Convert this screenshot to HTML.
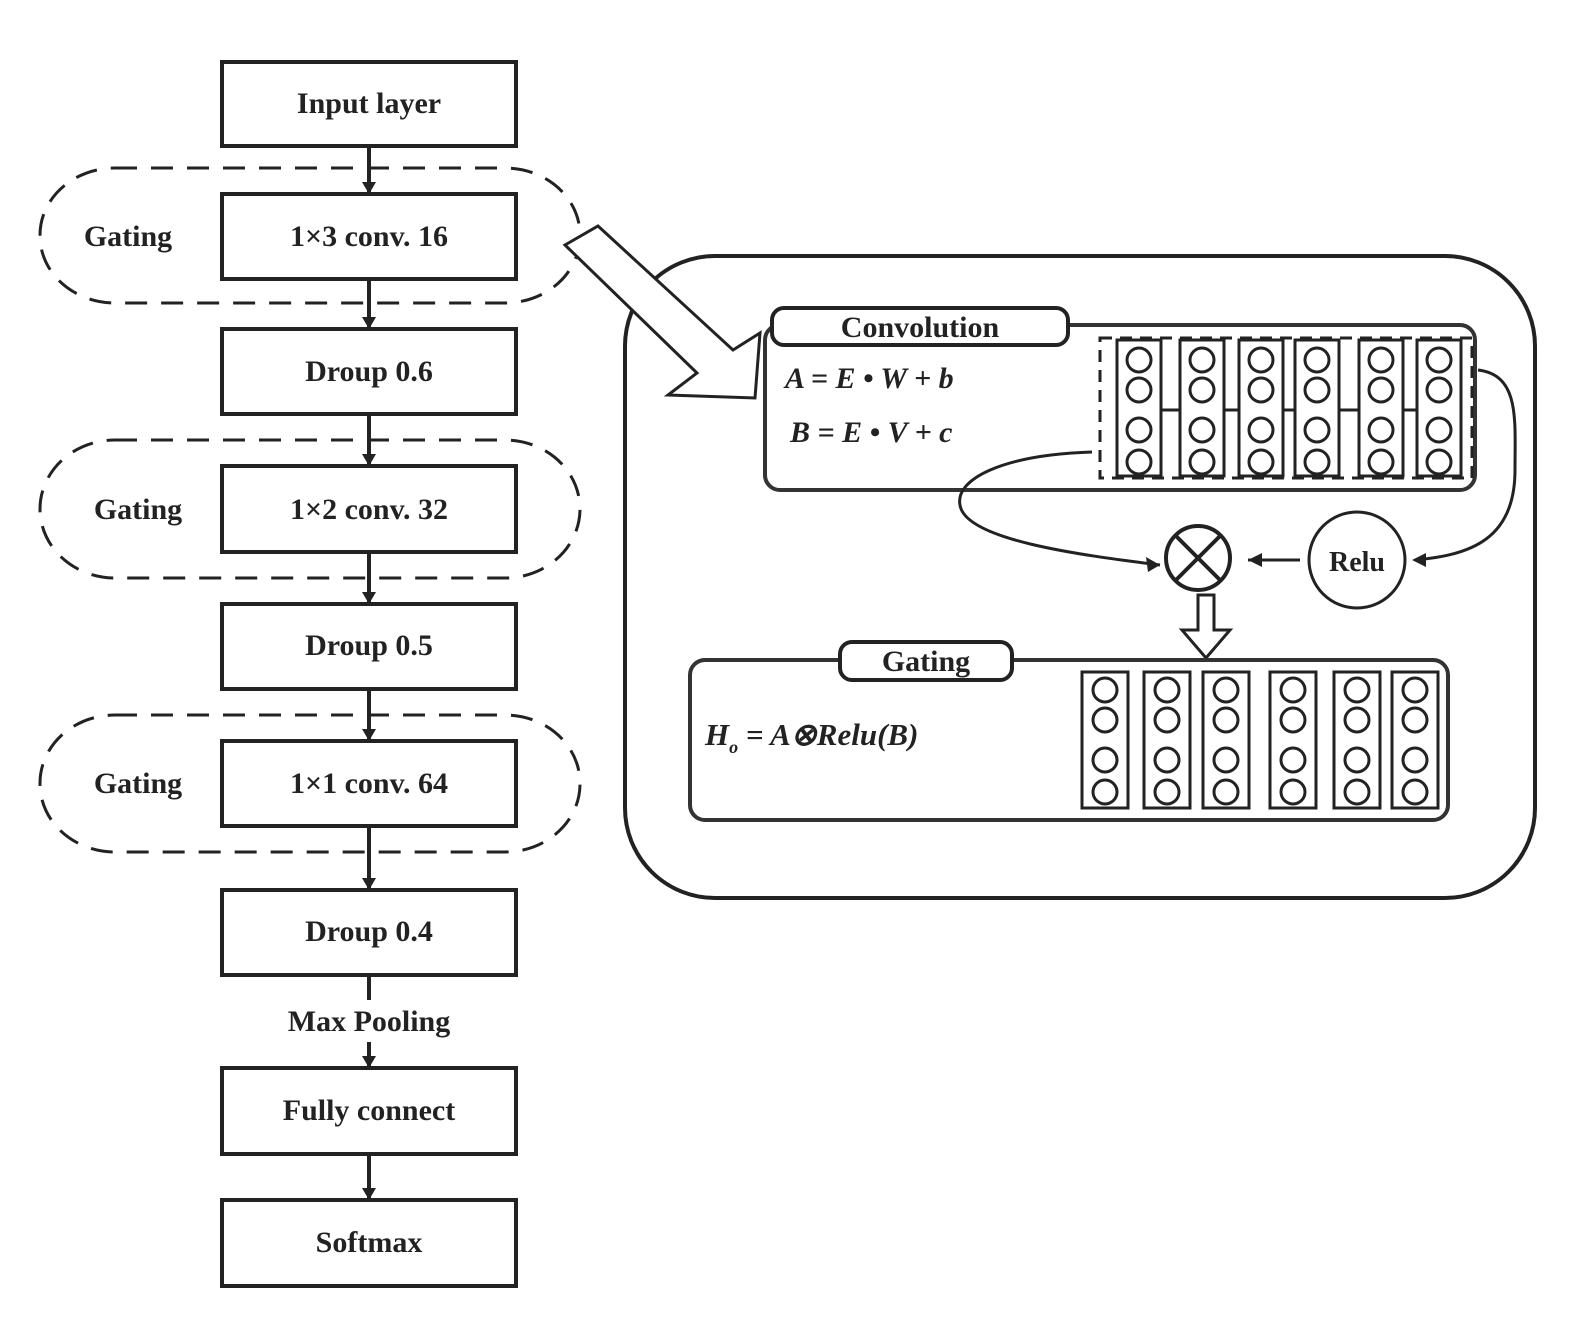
<!DOCTYPE html>
<html><head><meta charset="utf-8"><style>
html,body{margin:0;padding:0;background:#fff;}
svg{display:block;}
text{font-family:"Liberation Serif",serif;font-weight:bold;fill:#222;}
</style></head><body>
<svg width="1577" height="1331" viewBox="0 0 1577 1331" xmlns="http://www.w3.org/2000/svg">
<g stroke="#222" stroke-width="4" fill="none">
<rect x="40" y="168" width="540" height="135" rx="75" ry="67" stroke-dasharray="22,14" stroke-width="3"/>
<rect x="40" y="440" width="540" height="138" rx="75" ry="69" stroke-dasharray="22,14" stroke-width="3"/>
<rect x="40" y="715" width="540" height="137" rx="75" ry="68" stroke-dasharray="22,14" stroke-width="3"/>
<line x1="369" y1="146" x2="369" y2="1200" stroke-width="4"/>
</g>
<g fill="#fff" stroke="#222" stroke-width="4">
<rect x="222" y="62" width="294" height="84"/>
<rect x="222" y="194" width="294" height="85"/>
<rect x="222" y="329" width="294" height="85"/>
<rect x="222" y="466" width="294" height="86"/>
<rect x="222" y="604" width="294" height="85"/>
<rect x="222" y="741" width="294" height="85"/>
<rect x="222" y="890" width="294" height="85"/>
<rect x="222" y="1068" width="294" height="86"/>
<rect x="222" y="1200" width="294" height="86"/>
<rect x="250" y="1000" width="240" height="42" stroke="none"/>
</g>
<g fill="#222">
<polygon points="369,194 362,182 376,182"/>
<polygon points="369,329 362,317 376,317"/>
<polygon points="369,466 362,454 376,454"/>
<polygon points="369,604 362,592 376,592"/>
<polygon points="369,741 362,729 376,729"/>
<polygon points="369,890 362,878 376,878"/>
<polygon points="369,1068 362,1056 376,1056"/>
<polygon points="369,1200 362,1188 376,1188"/>
</g>
<g font-size="30" text-anchor="middle">
<text x="369" y="113">Input layer</text>
<text x="369" y="246">1×3 conv.  16</text>
<text x="369" y="381">Droup 0.6</text>
<text x="369" y="519">1×2 conv.  32</text>
<text x="369" y="655">Droup 0.5</text>
<text x="369" y="793">1×1 conv.  64</text>
<text x="369" y="941">Droup 0.4</text>
<text x="369" y="1031">Max Pooling</text>
<text x="369" y="1120">Fully connect</text>
<text x="369" y="1252">Softmax</text>
<text x="128" y="246">Gating</text>
<text x="138" y="519">Gating</text>
<text x="138" y="793">Gating</text>
</g>
<rect x="625" y="256" width="910" height="642" rx="90" fill="none" stroke="#222" stroke-width="4"/>
<polygon points="565,245 598,226 733,350 760,333 755,398 668,395 697,373" fill="#fff" stroke="#222" stroke-width="3"/>
<rect x="765" y="325" width="710" height="165" rx="15" fill="none" stroke="#333" stroke-width="4"/>
<rect x="772" y="308" width="296" height="37" rx="12" fill="#fff" stroke="#222" stroke-width="4"/>
<text x="920" y="337" font-size="30" text-anchor="middle">Convolution</text>
<text x="785" y="388" font-size="30" font-style="italic">A = E • W  + b</text>
<text x="790" y="442" font-size="30" font-style="italic">B = E • V  + c</text>
<g stroke="#222" stroke-width="3" fill="none">
<rect x="1100" y="338" width="372" height="140" stroke-dasharray="12,8"/>
<g id="colc">
<rect x="1117" y="340" width="44" height="136"/>
<circle cx="1139" cy="360" r="12"/><circle cx="1139" cy="390" r="12"/><circle cx="1139" cy="430" r="12"/><circle cx="1139" cy="462" r="12"/>
</g>
<use href="#colc" x="63"/><use href="#colc" x="122"/><use href="#colc" x="178"/><use href="#colc" x="242"/><use href="#colc" x="300"/>
<line x1="1161" y1="410" x2="1180" y2="410"/>
<line x1="1224" y1="410" x2="1239" y2="410"/>
<line x1="1283" y1="410" x2="1295" y2="410"/>
<line x1="1339" y1="410" x2="1359" y2="410"/>
<line x1="1403" y1="410" x2="1417" y2="410"/>
<path d="M1092,452 C1000,455 955,480 960,505 C965,540 1080,555 1160,565" stroke-width="3"/>
<path d="M1478,370 C1520,375 1515,420 1515,470 C1515,540 1470,555 1415,560" stroke-width="3"/>
<line x1="1300" y1="560" x2="1248" y2="560"/>
</g>
<polygon points="1248,560 1262,553 1262,567" fill="#222"/>
<polygon points="1160,565 1146,557 1148,572" fill="#222"/>
<polygon points="1412,560 1426,553 1426,567" fill="#222"/>
<circle cx="1198" cy="558" r="32" fill="#fff" stroke="#222" stroke-width="4"/>
<line x1="1175" y1="535" x2="1221" y2="581" stroke="#222" stroke-width="4"/>
<line x1="1221" y1="535" x2="1175" y2="581" stroke="#222" stroke-width="4"/>
<circle cx="1357" cy="560" r="48" fill="#fff" stroke="#222" stroke-width="3"/>
<text x="1357" y="571" font-size="28" text-anchor="middle" font-weight="normal">Relu</text>
<polygon points="1198,595 1214,595 1214,630 1230,630 1206,658 1182,630 1198,630" fill="#fff" stroke="#222" stroke-width="3"/>
<rect x="690" y="660" width="758" height="160" rx="15" fill="none" stroke="#333" stroke-width="4"/>
<rect x="840" y="642" width="172" height="38" rx="12" fill="#fff" stroke="#222" stroke-width="4"/>
<text x="926" y="671" font-size="30" text-anchor="middle">Gating</text>
<text x="705" y="745" font-size="31" font-style="italic">H<tspan font-size="18" dy="8">o</tspan><tspan dy="-8"> = A⊗Relu(B)</tspan></text>
<g stroke="#222" stroke-width="3" fill="none">
<g id="colg">
<rect x="1082" y="672" width="46" height="136"/>
<circle cx="1105" cy="690" r="12"/><circle cx="1105" cy="720" r="12"/><circle cx="1105" cy="760" r="12"/><circle cx="1105" cy="792" r="12"/>
</g>
<use href="#colg" x="62"/><use href="#colg" x="121"/><use href="#colg" x="188"/><use href="#colg" x="252"/><use href="#colg" x="310"/>
</g>
</svg>
</body></html>
